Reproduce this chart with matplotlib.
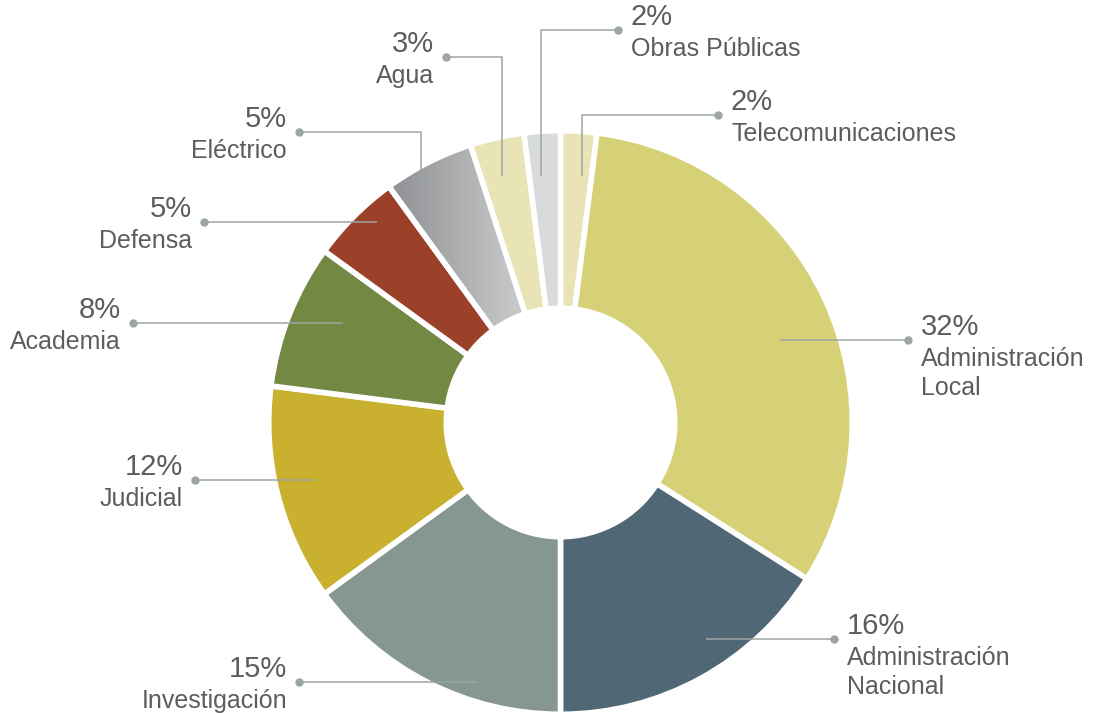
import numpy as np
import matplotlib.pyplot as plt
from matplotlib.patches import Wedge

plt.rcParams['font.family'] = ['Liberation Sans', 'DejaVu Sans']

# datos: sectores en sentido horario desde arriba
sectores = ['Telecomunicaciones', 'Administración\nLocal', 'Administración\nNacional',
            'Investigación', 'Judicial', 'Academia', 'Defensa', 'Eléctrico',
            'Agua', 'Obras Públicas']
porcentajes = [2, 32, 16, 15, 12, 8, 5, 5, 3, 2]
colores = ['#e9e4b5', '#d6d176', '#506775', '#869691', '#c9b12f',
           '#738842', '#9b4029', '#a5a6a8', '#e9e4b5', '#d9dadc']

# geometría de la dona (en píxeles)
cx, cy = 560.5, 422.5
R_ext, R_int = 289, 117
lw = 4  # separación blanca entre sectores
lw_px = lw * 100 / 72

# posición de cada etiqueta: (fracción dentro del sector, radio del ancla, x del punto, y del punto o None, lado)
etiquetas = [
    (0.68, 247, 718, 115, 'der'),
    (0.54, 235, 908, None, 'der'),
    (0.41, 261, 834, None, 'der'),
    (0.33, 273, 299, None, 'izq'),
    (0.53, 252, 195, None, 'izq'),
    (0.60, 239, 133, None, 'izq'),
    (0.64, 272, 204, None, 'izq'),
    (0.30, 274, 299, 132, 'izq'),
    (0.43, 253, 446, 57, 'izq'),
    (0.375, 247, 618, 30, 'der'),
]

color_texto = '#5d5d5f'
color_linea = '#9ba5a3'

fig = plt.figure(figsize=(11, 7.13), dpi=100)
ax = fig.add_axes([0, 0, 1, 1])

r_out = R_ext + lw_px / 2
r_in = R_int - lw_px / 2
wedges, _ = ax.pie(porcentajes, colors=colores, startangle=-90, counterclock=True,
                   radius=r_out, center=(cx, cy),
                   wedgeprops=dict(width=r_out - r_in, edgecolor='white', linewidth=lw))

# degradado gris del sector Eléctrico
w = wedges[7]
ths = np.radians(np.linspace(w.theta1, w.theta2, 50))
xs = np.concatenate([cx + r_out * np.cos(ths), cx + r_in * np.cos(ths)])
ys = np.concatenate([cy + r_out * np.sin(ths), cy + r_in * np.sin(ths)])
grad = np.linspace(0, 1, 256)[None, :]
cmap_gris = plt.matplotlib.colors.LinearSegmentedColormap.from_list('gris', ['#8e9093', '#cbcccd'])
img = ax.imshow(grad, cmap=cmap_gris, extent=[xs.min(), xs.max(), ys.max(), ys.min()],
                aspect='auto', zorder=1.5)
img.set_clip_path(w)
borde = Wedge((cx, cy), w.r, w.theta1, w.theta2, width=w.width,
              facecolor='none', edgecolor='white', linewidth=lw, zorder=2)
ax.add_patch(borde)

for w, pct, nombre, (frac, r, dx, dy, lado) in zip(wedges, porcentajes, sectores, etiquetas):
    th = np.radians(w.theta1 + frac * (w.theta2 - w.theta1))
    ax_x = cx + r * np.cos(th)
    ax_y = cy + r * np.sin(th)
    if dy is None:
        dy = ax_y
        xs_l, ys_l = [ax_x, dx], [ax_y, dy]
    else:
        xs_l, ys_l = [ax_x, ax_x, dx], [ax_y, dy, dy]
    ax.plot(xs_l, ys_l, color=color_linea, lw=1.1, zorder=3, solid_capstyle='butt')
    ax.plot(dx, dy, 'o', color=color_linea, ms=5, zorder=3)

    if lado == 'der':
        tx, ha = dx + 13, 'left'
    else:
        tx, ha = dx - 12, 'right'
    ax.text(tx, dy - 5, f'{pct}%', ha=ha, va='baseline', fontsize=21, color=color_texto)
    for i, linea in enumerate(nombre.split('\n')):
        ax.text(tx, dy + 26 + 29 * i, linea, ha=ha, va='baseline', fontsize=18, color=color_texto)

ax.set_xlim(0, 1100)
ax.set_ylim(713, 0)
ax.set_aspect('equal')
ax.axis('off')

fig.savefig('out.png', dpi=100, facecolor='white')
